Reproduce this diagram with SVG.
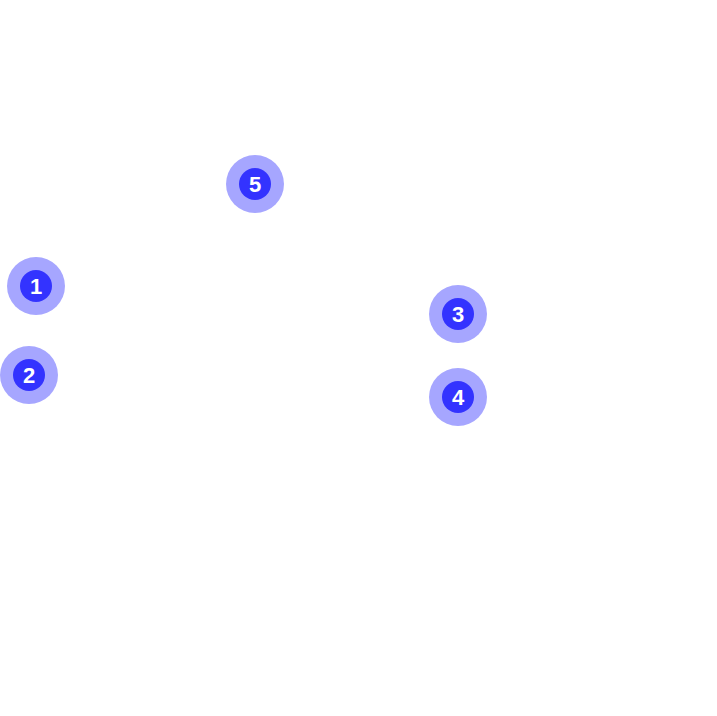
<svg xmlns="http://www.w3.org/2000/svg" width="717" height="716" viewBox="0 0 717 716">
<style>
.halo{fill:#a6a6ff}
.dot{fill:#3333ff}
.lbl{fill:#ffffff;font-family:"Liberation Sans",Arial,sans-serif;font-weight:bold;font-size:22px;text-anchor:middle;dominant-baseline:central}
</style>
<rect width="717" height="716" fill="#ffffff"/>
<g id="connectors"></g>
<g id="node5"><circle class="halo" cx="255" cy="184" r="29"/><circle class="dot" cx="255" cy="184" r="16"/><text class="lbl" x="255" y="184">5</text></g>
<g id="node1"><circle class="halo" cx="36" cy="286" r="29"/><circle class="dot" cx="36" cy="286" r="16"/><text class="lbl" x="36" y="286">1</text></g>
<g id="node2"><circle class="halo" cx="29" cy="375" r="29"/><circle class="dot" cx="29" cy="375" r="16"/><text class="lbl" x="29" y="375">2</text></g>
<g id="node3"><circle class="halo" cx="458" cy="314" r="29"/><circle class="dot" cx="458" cy="314" r="16"/><text class="lbl" x="458" y="314">3</text></g>
<g id="node4"><circle class="halo" cx="458" cy="397" r="29"/><circle class="dot" cx="458" cy="397" r="16"/><text class="lbl" x="458" y="397">4</text></g>
</svg>
